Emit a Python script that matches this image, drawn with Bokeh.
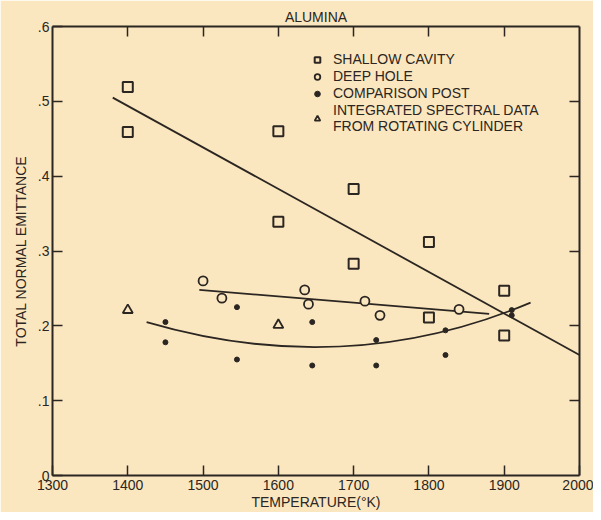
from bokeh.plotting import figure
from bokeh.models import LinearAxis, Legend, LegendItem, FixedTicker, Range1d, CustomJSTickFormatter
from bokeh.embed import file_html
from bokeh.resources import INLINE

# ---- data ----
shallow_T = [1400, 1400, 1600, 1600, 1700, 1700, 1800, 1800, 1900, 1900]
shallow_E = [0.519, 0.459, 0.460, 0.339, 0.383, 0.283, 0.312, 0.211, 0.247, 0.187]
deep_T = [1500, 1525, 1635, 1640, 1715, 1735, 1840]
deep_E = [0.260, 0.237, 0.248, 0.229, 0.233, 0.214, 0.222]
post_T = [1450, 1450, 1545, 1545, 1645, 1645, 1730, 1730, 1822, 1822, 1910, 1910]
post_E = [0.205, 0.178, 0.225, 0.155, 0.205, 0.147, 0.181, 0.147, 0.194, 0.161, 0.221, 0.214]
tri_T = [1400, 1600]
tri_E = [0.221, 0.201]
# fitted lines
shallow_fit_T = [1380, 2000]
shallow_fit_E = [0.505, 0.161]
deep_fit_T = [1495, 1880]
deep_fit_E = [0.248, 0.216]
post_fit_T = [1425, 1935]
post_fit_E = [0.205, 0.231]
post_fit_ctrl_T = [1690]
post_fit_ctrl_E = [0.127]

x_ticks = [1300, 1400, 1500, 1600, 1700, 1800, 1900, 2000]
y_ticks = [0, 0.1, 0.2, 0.3, 0.4, 0.5, 0.6]

INK = "#2b2622"
BG = "#fbe7bf"
FONT = "Liberation Sans"

p = figure(width=593, height=512, output_backend="svg", toolbar_location=None,
           x_range=Range1d(1300, 2000), y_range=Range1d(0, 0.6),
           min_border_left=52, min_border_right=14, min_border_top=26, min_border_bottom=34,
           background_fill_color=BG, border_fill_color=BG)
p.outline_line_color = None
p.xgrid.visible = False
p.ygrid.visible = False

p.title.text = "ALUMINA"
p.title.align = "center"
p.title.text_font = FONT
p.title.text_font_size = "14px"
p.title.text_font_style = "normal"
p.title.text_color = INK
p.title.standoff = 4

def style(ax, labels=True):
    ax.axis_line_color = INK
    ax.axis_line_width = 2
    ax.major_tick_line_color = INK
    ax.major_tick_line_width = 1.5
    ax.major_tick_in = 10
    ax.major_tick_out = 0
    ax.minor_tick_line_color = None
    ax.major_label_text_color = INK
    ax.major_label_text_font = FONT
    ax.major_label_text_font_size = "14px"
    ax.major_label_standoff = 4
    ax.axis_label_text_font = FONT
    ax.axis_label_text_font_size = "14px"
    ax.axis_label_text_font_style = "normal"
    ax.axis_label_text_color = INK
    if not labels:
        ax.major_label_text_color = None
        ax.major_label_text_font_size = "1px"
        ax.major_label_standoff = 0

xf = CustomJSTickFormatter(code="return String(tick);")
yf = CustomJSTickFormatter(code="return tick == 0 ? '0' : tick.toFixed(1).replace(/^0/, '');")

p.xaxis.ticker = FixedTicker(ticks=x_ticks)
p.xaxis.formatter = xf
p.xaxis.axis_label = "TEMPERATURE(°K)"
p.yaxis.ticker = FixedTicker(ticks=y_ticks)
p.yaxis.formatter = yf
p.yaxis.axis_label = "TOTAL NORMAL EMITTANCE"
style(p.xaxis[0])
style(p.yaxis[0])
p.yaxis.major_label_standoff = 3
p.xaxis.axis_label_standoff = 1
p.yaxis.axis_label_standoff = 6

top = LinearAxis(ticker=FixedTicker(ticks=x_ticks[1:-1]))
right = LinearAxis(ticker=FixedTicker(ticks=y_ticks[1:-1]))
style(top, False)
style(right, False)
p.add_layout(top, "above")
p.add_layout(right, "right")

# fitted lines
p.line(shallow_fit_T, shallow_fit_E, line_color=INK, line_width=1.8)
p.line(deep_fit_T, deep_fit_E, line_color=INK, line_width=1.8)
p.quadratic(x0=post_fit_T[:1], y0=post_fit_E[:1], x1=post_fit_T[1:], y1=post_fit_E[1:],
            cx=post_fit_ctrl_T, cy=post_fit_ctrl_E, line_color=INK, line_width=1.8)

r_sq = p.scatter(shallow_T, shallow_E, marker="square", size=10, fill_color=BG,
                 line_color=INK, line_width=2)
r_ci = p.scatter(deep_T, deep_E, marker="circle", size=9, fill_color=BG,
                 line_color=INK, line_width=1.8)
r_dot = p.scatter(post_T, post_E, marker="circle", size=5, fill_color=INK,
                  line_color=INK, line_width=1)
r_tri = p.scatter(tri_T, tri_E, marker="triangle", size=10, fill_color=BG,
                  line_color=INK, line_width=1.8)

legend = Legend(items=[
    LegendItem(label="SHALLOW CAVITY", renderers=[r_sq]),
    LegendItem(label="DEEP HOLE", renderers=[r_ci]),
    LegendItem(label="COMPARISON POST", renderers=[r_dot]),
    LegendItem(label="INTEGRATED SPECTRAL DATA\nFROM ROTATING CYLINDER", renderers=[r_tri]),
], location=(258, 341))
legend.background_fill_alpha = 0
legend.border_line_alpha = 0
legend.label_text_font = FONT
legend.label_text_font_size = "14px"
legend.label_text_color = INK
legend.label_text_line_height = 1.15
legend.label_height = 15
legend.glyph_height = 15
legend.glyph_width = 14
legend.spacing = 1
legend.padding = 0
legend.margin = 0
legend.label_standoff = 9
p.add_layout(legend)

html = file_html(p, INLINE)
html = html.replace("<body>", '<body style="background:%s">' % BG, 1)
open("out.html", "w").write(html)
